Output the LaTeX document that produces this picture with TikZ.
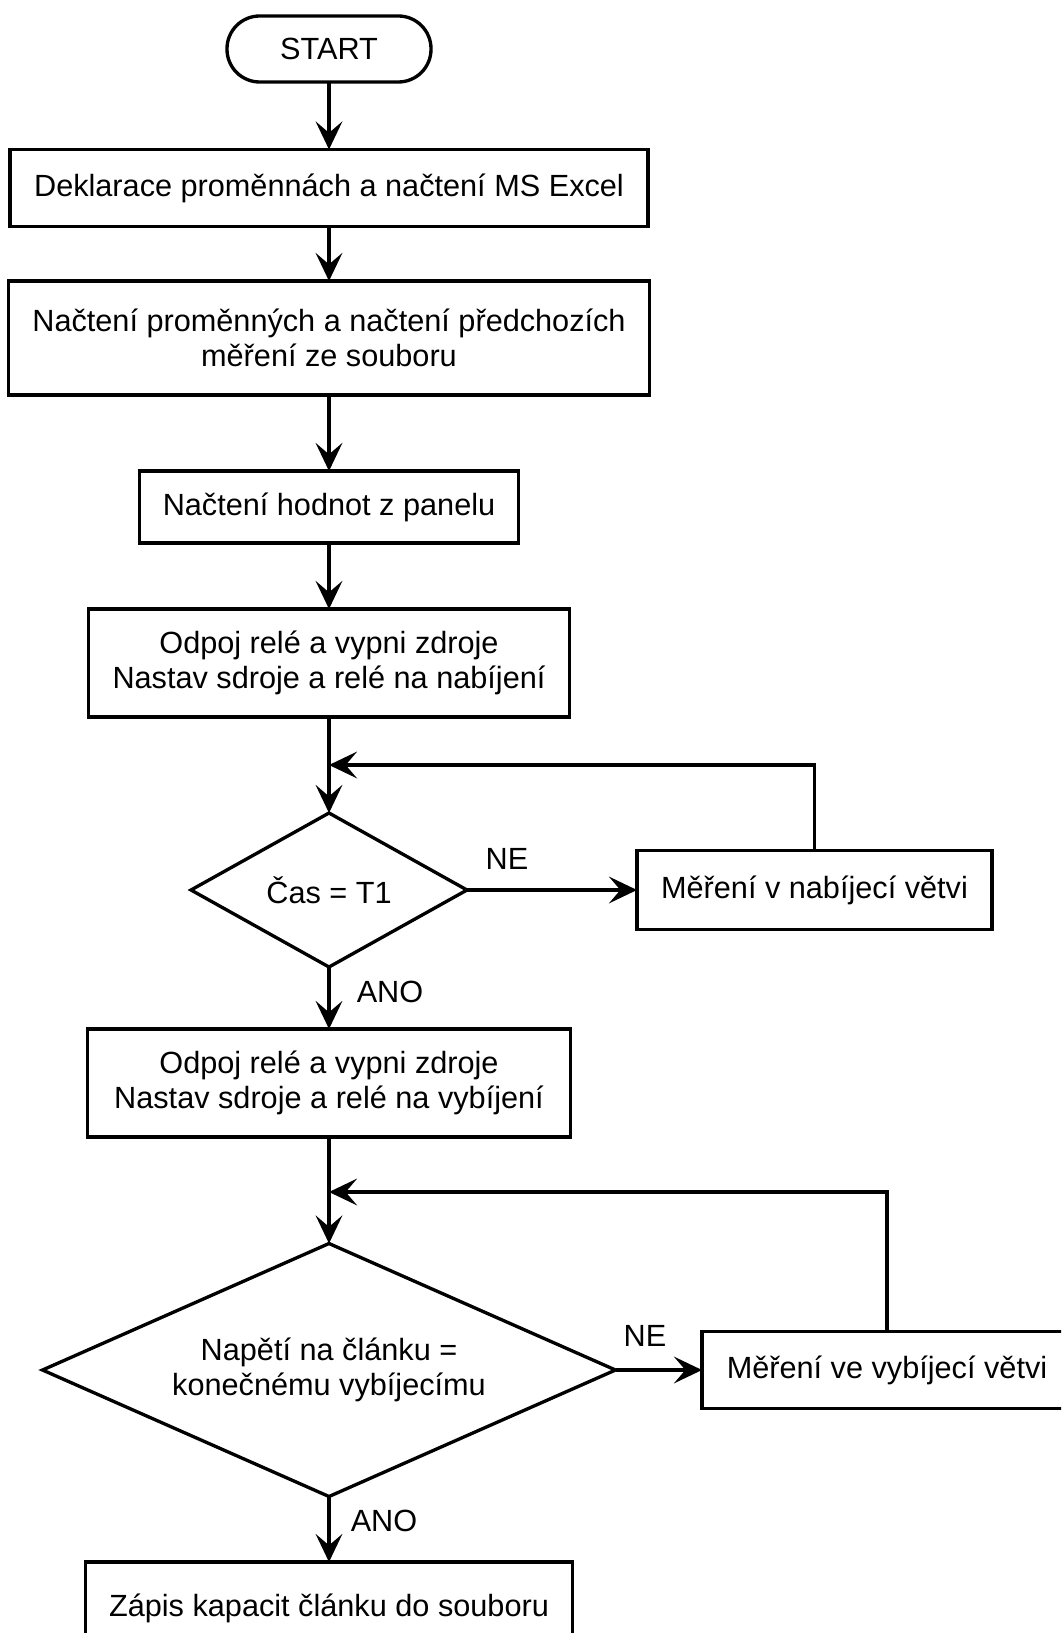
\documentclass[tikz,border=0pt]{standalone}
\usepackage{fontspec}
\setmainfont{Liberation Sans}
\usetikzlibrary{shapes.geometric,arrows.meta}
\begin{document}
\begin{tikzpicture}[x=0.75pt,y=-0.75pt,
  font=\fontsize{23pt}{26.5pt}\selectfont,
  lw/.style={line width=2.5pt},
  box/.style 2 args={draw, lw, rectangle, inner sep=0pt, outer sep=0pt,
     minimum width=#1*0.75pt, minimum height=#2*0.75pt, align=center},
  term/.style={draw, lw, rectangle, rounded corners=24.5pt, inner sep=0pt, outer sep=0pt,
     minimum width=204*0.75pt, minimum height=66*0.75pt},
  dia/.style={draw, lw, diamond, inner sep=0pt, outer sep=0pt, align=center},
  lbl/.style={inner sep=0pt, outer sep=0pt},
  arr/.style={lw, -{Stealth[length=21pt, width=20pt, inset=8.5pt]}},
  conn/.style={lw}
]
\useasboundingbox (0,0) rectangle (1061,1633);
\clip (0,0) rectangle (1061,1633);

\node[term] (start) at (329,49) {START};
\node[box={638}{77}] (b1) at (329,188) {Deklarace proměnnách a načtení MS Excel};
\node[box={641}{114}] (b2) at (329,338) {Načtení proměnných a načtení předchozích\\měření ze souboru};
\node[box={379}{72}] (b3) at (329,507) {Načtení hodnot z panelu};
\node[box={481}{108}] (b4) at (329,663) {Odpoj relé a vypni zdroje\\Nastav sdroje a relé na nabíjení};
\node[dia, minimum width=276*0.75pt, minimum height=154*0.75pt, shape aspect=1.8] (d1) at (329,890) {Čas = T1};
\node[box={355}{79}] (m1) at (814.5,890) {Měření v nabíjecí větvi};
\node[box={483}{108}] (b5) at (329,1083) {Odpoj relé a vypni zdroje\\Nastav sdroje a relé na vybíjení};
\node[dia, minimum width=573*0.75pt, minimum height=253*0.75pt, shape aspect=2.27] (d2) at (329,1370) {Napětí na článku =\\konečnému vybíjecímu};
\node[box={370}{77}] (m2) at (887,1370) {Měření ve vybíjecí větvi};
\node[box={487}{92}] (b6) at (329,1608) {Zápis kapacit článku do souboru};

\node[lbl] (ne1) at (507,859) {NE};
\node[lbl] (ano1) at (390,992) {ANO};
\node[lbl] (ne2) at (645,1336) {NE};
\node[lbl] (ano2) at (384,1521) {ANO};

\coordinate (j1) at (329,765);
\coordinate (j2) at (329,1192);

\draw[arr] (start) -- (b1);
\draw[arr] (b1) -- (b2);
\draw[arr] (b2) -- (b3);
\draw[arr] (b3) -- (b4);
\draw[arr] (b4) -- (d1);
\draw[arr] (m1.north) |- (j1);
\draw[arr] (d1.east) -- (m1.west);
\draw[arr] (d1.south) -- (b5.north);
\draw[arr] (b5) -- (d2);
\draw[arr] (m2.north) |- (j2);
\draw[arr] (d2.east) -- (m2.west);
\draw[arr] (d2.south) -- (b6.north);
\end{tikzpicture}
\end{document}
